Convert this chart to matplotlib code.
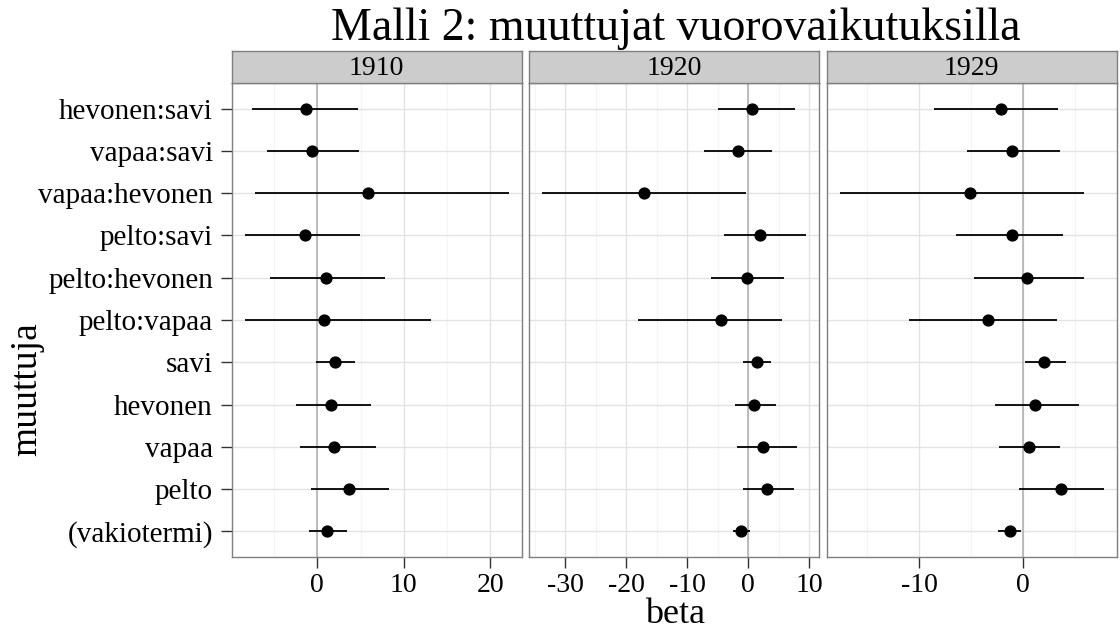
import matplotlib
matplotlib.use("Agg")
import matplotlib.pyplot as plt
from matplotlib.ticker import MultipleLocator
import numpy as np

plt.rcParams["font.family"] = ["Liberation Serif", "DejaVu Serif"]

# muuttujat alhaalta ylös (ggplotin tekijätasojen järjestys)
muuttujat = ["(vakiotermi)", "pelto", "vapaa", "hevonen", "savi",
             "pelto:vapaa", "pelto:hevonen", "pelto:savi",
             "vapaa:hevonen", "vapaa:savi", "hevonen:savi"]
vuodet = ["1910", "1920", "1929"]

# estimaatit ja luottamusvälit, samassa järjestyksessä kuin muuttujat
beta_1910 = [1.15, 3.62, 1.96, 1.58, 2.00, 0.77, 0.96, -1.38, 5.88, -0.62, -1.27]
ala_1910 = [-0.96, -0.73, -2.04, -2.46, -0.12, -8.31, -5.46, -8.35, -7.15, -5.81, -7.50]
yla_1910 = [3.38, 8.31, 6.73, 6.19, 4.35, 13.15, 7.88, 4.88, 22.08, 4.77, 4.73]

beta_1920 = [-1.14, 3.16, 2.50, 1.03, 1.47, -4.41, -0.11, 1.91, -17.09, -1.58, 0.65]
ala_1920 = [-2.50, -0.87, -1.85, -2.23, -0.76, -18.13, -6.15, -4.03, -33.75, -7.19, -4.95]
yla_1920 = [0.33, 7.51, 7.95, 4.63, 3.76, 5.50, 5.93, 9.47, -0.38, 3.92, 7.62]

beta_1929 = [-1.28, 3.61, 0.58, 1.18, 2.04, -3.39, 0.38, -1.02, -5.14, -1.02, -2.08]
ala_1929 = [-2.43, -0.35, -2.33, -2.68, 0.22, -10.99, -4.70, -6.42, -17.60, -5.34, -8.59]
yla_1929 = [-0.16, 7.73, 3.55, 5.34, 4.12, 3.23, 5.81, 3.80, 5.81, 3.51, 3.35]

beta = [beta_1910, beta_1920, beta_1929]
ala = [ala_1910, ala_1920, ala_1929]
yla = [yla_1910, yla_1920, yla_1929]

W, H = 1120, 629
fig = plt.figure(figsize=(W / 100, H / 100), dpi=100)

paneelit = [(231.7, 521.7), (529.3, 819.0), (826.7, 1116.7)]
ylä, ala_reuna, nauha = 83.3, 556.7, 50.7
y = np.arange(1, len(muuttujat) + 1)

for i, (x0, x1) in enumerate(paneelit):
    ax = fig.add_axes([x0 / W, 1 - ala_reuna / H, (x1 - x0) / W, (ala_reuna - ylä) / H])
    ax.set_facecolor("white")
    ax.set_axisbelow(True)
    ax.xaxis.set_major_locator(MultipleLocator(10))
    ax.xaxis.set_minor_locator(MultipleLocator(5))
    ax.grid(which="minor", axis="x", color="#F5F5F5", lw=1.0)
    ax.grid(which="major", color="#E3E3E3", lw=1.0)
    ax.axvline(0, color="#B3B3B3", lw=1.2, zorder=1)
    ax.hlines(y, ala[i], yla[i], color="black", lw=1.3, zorder=2)
    ax.plot(beta[i], y, "o", color="black", ms=7.8, zorder=3)
    ax.margins(x=0.05)
    ax.set_ylim(0.4, len(muuttujat) + 0.6)
    ax.set_yticks(y)
    ax.tick_params(axis="both", which="major", length=8, width=1.0, color="#333333",
                   labelsize=20, pad=5.5)
    ax.tick_params(axis="x", which="major", pad=3.5)
    ax.tick_params(axis="x", which="minor", length=0)
    if i == 0:
        ax.set_yticklabels(muuttujat, fontsize=21)
    else:
        ax.tick_params(axis="y", which="both", length=0, labelleft=False)
    ax.set_xticklabels([f"{t:g}" for t in ax.get_xticks()])
    for s in ax.spines.values():
        s.set_color("#7F7F7F")
        s.set_linewidth(1.0)

    st = fig.add_axes([x0 / W, 1 - ylä / H, (x1 - x0) / W, (ylä - nauha) / H])
    st.set_facecolor("#CCCCCC")
    st.set_xticks([])
    st.set_yticks([])
    for s in st.spines.values():
        s.set_color("#7F7F7F")
        s.set_linewidth(1.0)
    st.text(0.5, 0.45, vuodet[i], ha="center", va="center", fontsize=20,
            transform=st.transAxes)

fig.text(676 / W, 1 - 40 / H, "Malli 2: muuttujat vuorovaikutuksilla",
         ha="center", va="baseline", fontsize=33)
fig.text(675 / W, 1 - 623 / H, "beta", ha="center", va="baseline", fontsize=26)
fig.text(27 / W, 1 - 389 / H, "muuttuja", ha="center", va="center",
         rotation=90, fontsize=27)

fig.savefig("out.png", dpi=100, facecolor="white")
